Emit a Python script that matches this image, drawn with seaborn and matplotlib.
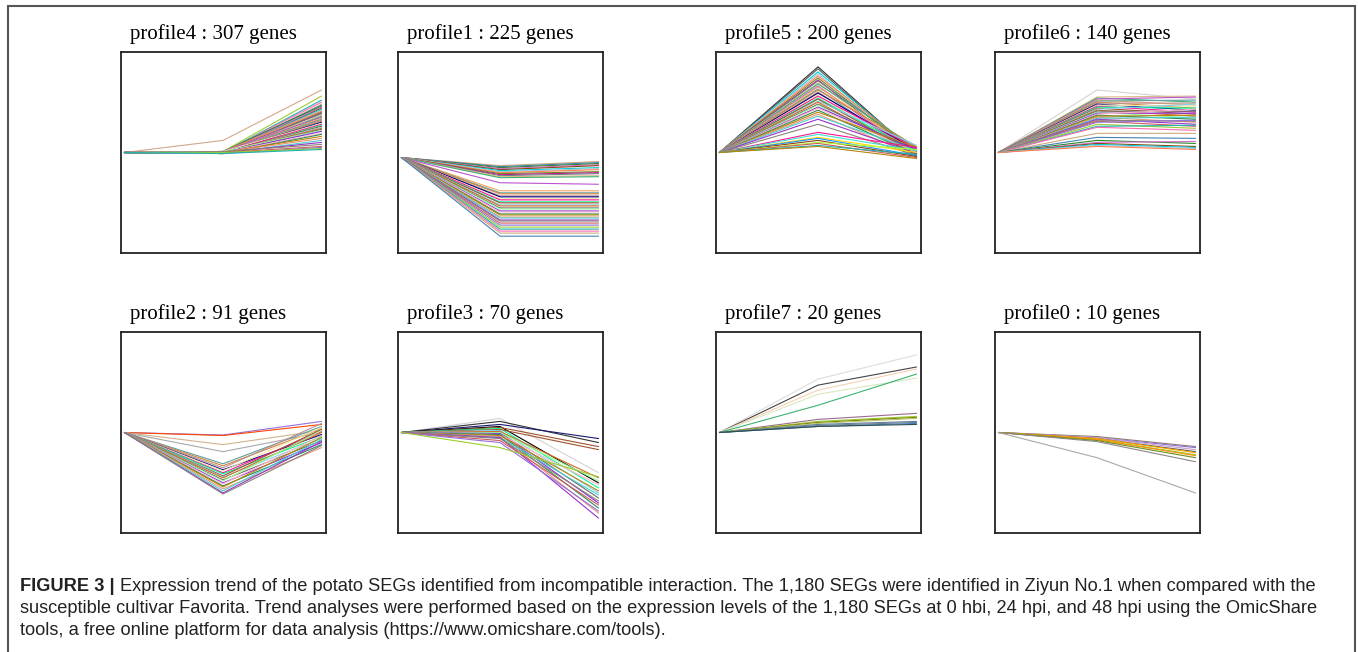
import matplotlib
matplotlib.use('Agg')
import matplotlib.pyplot as plt
import seaborn as sns
import pandas as pd
from matplotlib.patches import Rectangle

sns.set_theme(style='white')
plt.rcParams['font.family'] = ['Liberation Serif', 'DejaVu Serif']

# ---------------- data ----------------
TIME_POINTS = [0, 1, 2]          # 0 hbi, 24 hpi, 48 hpi

TITLES = ["profile4 : 307 genes", "profile1 : 225 genes", "profile5 : 200 genes",
          "profile6 : 140 genes", "profile2 : 91 genes", "profile3 : 70 genes",
          "profile7 : 20 genes", "profile0 : 10 genes"]

# start value of each profile at 0 hbi
STARTS = [0.0, -0.05, 0.0, 0.0, 0.0, 0.0, 0.0, 0.0]

# (24 hpi, 48 hpi) values of representative genes per profile
P4 = [(0.12, 0.62), (0.01, 0.56), (0.00, 0.52), (0.00, 0.50), (-0.01, 0.48), (0.00, 0.47),
      (0.01, 0.46), (0.00, 0.45), (-0.01, 0.44), (0.00, 0.43), (0.00, 0.42), (0.01, 0.41),
      (-0.01, 0.40), (0.00, 0.39), (0.00, 0.385), (0.00, 0.37), (-0.01, 0.36), (0.01, 0.35),
      (0.00, 0.34), (0.00, 0.33), (-0.01, 0.32), (0.00, 0.31), (0.00, 0.30), (0.01, 0.29),
      (0.00, 0.28), (-0.01, 0.27), (0.00, 0.26), (0.00, 0.25), (0.00, 0.24), (-0.01, 0.23),
      (0.01, 0.22), (0.00, 0.21), (0.00, 0.19), (-0.01, 0.18), (0.00, 0.16), (0.00, 0.14),
      (-0.01, 0.12), (0.00, 0.10), (0.01, 0.08), (0.00, 0.06), (-0.01, 0.05), (0.00, 0.04),
      (-0.01, 0.03)]

P1 = [(-0.13, -0.09), (-0.14, -0.10), (-0.15, -0.11), (-0.16, -0.12), (-0.17, -0.13),
      (-0.18, -0.15), (-0.19, -0.16), (-0.20, -0.17), (-0.21, -0.19), (-0.22, -0.20),
      (-0.23, -0.21), (-0.24, -0.23), (-0.25, -0.24), (-0.30, -0.315),
      (-0.38, -0.38), (-0.40, -0.40), (-0.41, -0.41), (-0.43, -0.43), (-0.44, -0.44),
      (-0.46, -0.46), (-0.47, -0.47), (-0.49, -0.49), (-0.50, -0.50), (-0.52, -0.52),
      (-0.53, -0.53), (-0.55, -0.55), (-0.56, -0.56), (-0.58, -0.58), (-0.59, -0.59),
      (-0.61, -0.61), (-0.62, -0.62), (-0.64, -0.64), (-0.65, -0.65), (-0.67, -0.67),
      (-0.68, -0.68), (-0.70, -0.70), (-0.72, -0.72), (-0.74, -0.74), (-0.76, -0.76),
      (-0.78, -0.78), (-0.80, -0.80), (-0.83, -0.83)]

P5 = [(0.85, -0.02), (0.83, -0.03), (0.80, 0.00), (0.78, -0.04), (0.76, 0.02), (0.74, -0.01),
      (0.72, -0.05), (0.71, 0.03), (0.69, -0.02), (0.68, 0.05), (0.66, -0.03), (0.65, 0.01),
      (0.63, -0.04), (0.62, 0.06), (0.60, -0.01), (0.59, 0.02), (0.57, -0.05), (0.56, 0.04),
      (0.54, 0.00), (0.53, -0.02), (0.51, 0.07), (0.50, -0.03), (0.48, 0.01), (0.47, -0.06),
      (0.45, 0.03), (0.44, 0.00), (0.42, -0.02), (0.40, 0.05), (0.38, -0.04), (0.36, 0.02),
      (0.33, -0.01), (0.28, -0.03),
      (0.20, 0.05), (0.18, 0.02), (0.15, 0.00), (0.14, -0.03), (0.12, -0.04), (0.10, 0.03),
      (0.09, -0.05), (0.07, -0.02), (0.06, -0.06)]

P6 = [(0.62, 0.53), (0.55, 0.56), (0.54, 0.50), (0.53, 0.55), (0.52, 0.47), (0.51, 0.52),
      (0.50, 0.44), (0.49, 0.49), (0.48, 0.42), (0.47, 0.46), (0.46, 0.40), (0.45, 0.44),
      (0.44, 0.38), (0.43, 0.48), (0.42, 0.36), (0.41, 0.41), (0.40, 0.34), (0.39, 0.39),
      (0.38, 0.43), (0.37, 0.33), (0.36, 0.37), (0.35, 0.30), (0.34, 0.35), (0.33, 0.28),
      (0.32, 0.31), (0.31, 0.26), (0.30, 0.32), (0.28, 0.24), (0.26, 0.27), (0.25, 0.22),
      (0.19, 0.19), (0.15, 0.14), (0.12, 0.09), (0.10, 0.11), (0.09, 0.06), (0.08, 0.05),
      (0.07, 0.04), (0.06, 0.03)]

P2 = [(-0.025, 0.11), (-0.03, 0.08), (-0.12, 0.02), (-0.19, 0.00), (-0.31, 0.06), (-0.33, 0.04),
      (-0.35, 0.09), (-0.37, -0.02), (-0.38, 0.05), (-0.40, 0.01), (-0.41, -0.04), (-0.43, 0.03),
      (-0.44, -0.06), (-0.45, 0.00), (-0.47, -0.08), (-0.48, 0.02), (-0.50, -0.10), (-0.51, -0.03),
      (-0.53, -0.12), (-0.54, -0.05), (-0.56, -0.15), (-0.58, -0.07), (-0.60, -0.09), (-0.61, -0.13)]

P3 = [(0.14, -0.40), (0.11, -0.10), (0.08, -0.06), (0.06, -0.50), (0.05, -0.14), (0.04, -0.55),
      (0.03, -0.17), (0.02, -0.60), (0.01, -0.45), (0.00, -0.65), (0.00, -0.48), (-0.01, -0.70),
      (-0.02, -0.52), (-0.02, -0.75), (-0.03, -0.58), (-0.04, -0.80), (-0.05, -0.62), (-0.05, -0.85),
      (-0.06, -0.68), (-0.08, -0.72), (-0.10, -0.78), (-0.15, -0.44)]

P7 = [(0.53, 0.77), (0.47, 0.65), (0.42, 0.63), (0.38, 0.54), (0.27, 0.58), (0.13, 0.19),
      (0.11, 0.16), (0.10, 0.15), (0.09, 0.14), (0.08, 0.11), (0.07, 0.10), (0.06, 0.09),
      (0.06, 0.08)]

P0 = [(-0.04, -0.14), (-0.05, -0.15), (-0.05, -0.17), (-0.06, -0.19), (-0.06, -0.20),
      (-0.07, -0.22), (-0.07, -0.23), (-0.08, -0.25), (-0.09, -0.29), (-0.25, -0.60)]

GENES = [P4, P1, P5, P6, P2, P3, P7, P0]

# ---------------- colours ----------------
PALETTE = ['#8B8378', '#CD5C5C', '#9370DB', '#9ACD32', '#20B2AA', '#FF69B4', '#CDAA7D',
           '#4682B4', '#228B22', '#DA70D6', '#8B4513', '#00CED1', '#B0C4DE', '#FF7F50',
           '#6B8E23', '#C71585', '#708090', '#DEB887', '#3CB371', '#BA55D3', '#F4A460',
           '#5F9EA0', '#CD853F', '#BC8F8F', '#000080', '#EEE8AA', '#FF1493', '#00FA9A',
           '#A0522D', '#87CEEB', '#D2691E', '#696969', '#98FB98', '#8A2BE2', '#FFB6C1',
           '#2E8B57', '#B8860B', '#E9967A', '#48D1CC', '#9932CC']

def cyc(offset, n):
    return [PALETTE[(offset + k) % len(PALETTE)] for k in range(n)]

C4 = ['#D2A88C'] + cyc(3, len(P4) - 1)
C1 = cyc(6, len(P1))
C5 = ['#333333', '#555555'] + cyc(11, 30) + ['#FF1493'] + \
     ['#40E0D0', '#FFD700', '#1E90FF', '#8B4513', '#ADFF2F', '#CD5C5C', '#20B2AA', '#B8860B', '#48D1CC']
C6 = ['#D3D3D3'] + cyc(17, len(P6) - 1)
C2 = ['#9370DB', '#FF4500', '#D2B48C', '#A9A9A9'] + cyc(21, len(P2) - 4)
C3 = ['#D3D3D3', '#333333', '#191970', '#000000', '#A0522D'] + cyc(27, len(P3) - 5)
C7 = ['#DCDCDC', '#444444', '#F5D0B0', '#D8E8C0', '#3CB371', '#9B6B8E', '#9ACD32',
      '#808000', '#B8C870', '#5F7F9F', '#708090', '#4682B4', '#2F4F4F']
C0 = ['#8B7D6B', '#9370DB', '#C8A2C8', '#555555', '#FFA500', '#9ACD32', '#FF8C00',
      '#6B8E23', '#8B8682', '#A9A9A9']
COLORS = [C4, C1, C5, C6, C2, C3, C7, C0]

# ---------------- layout ----------------
W, H = 1358, 652
fig = plt.figure(figsize=(W / 100, H / 100), dpi=100)
col_left = [121, 398, 716, 995]
row_top = [51.7, 331.7]
pw, ph = 205, 201.6

for i in range(8):
    r, c = divmod(i, 4)
    ax = fig.add_axes([col_left[c] / W, 1 - (row_top[r] + ph) / H, pw / W, ph / H])
    genes = GENES[i]
    rows = []
    for g, (m, e) in enumerate(genes):
        for t, v in zip(TIME_POINTS, (STARTS[i], m, e)):
            rows.append({'gene': f'g{g:03d}', 'time': t, 'value': v})
    df = pd.DataFrame(rows)
    order = [f'g{g:03d}' for g in range(len(genes))]
    sns.lineplot(data=df, x='time', y='value', hue='gene', hue_order=order,
                 palette=COLORS[i][:len(genes)], legend=False, linewidth=0.8,
                 estimator=None, ax=ax)
    ax.set_xlim(-0.035, 2.045)
    ax.set_ylim(-1, 1)
    ax.set_xticks([])
    ax.set_yticks([])
    ax.set_xlabel('')
    ax.set_ylabel('')
    ax.set_facecolor('white')
    for s in ax.spines.values():
        s.set_visible(True)
        s.set_color('#222222')
        s.set_linewidth(1.3)
    ax.text(9 / pw, 1 + 12.7 / ph, TITLES[i], transform=ax.transAxes, ha='left',
            va='baseline', fontsize=15, family=['Liberation Serif'], color='black')

# outer frame
fig.add_artist(Rectangle((8 / W, -0.1), (1355 - 8) / W, 1.1 - 6 / H, transform=fig.transFigure,
                         fill=False, edgecolor='#555555', linewidth=1.5, clip_on=False))

# caption
CAP_BOLD = "FIGURE 3 |"
CAP_L1 = ("Expression trend of the potato SEGs identified from incompatible interaction. "
          "The 1,180 SEGs were identified in Ziyun No.1 when compared with the")
CAP_L2 = ("susceptible cultivar Favorita. Trend analyses were performed based on the expression "
          "levels of the 1,180 SEGs at 0 hbi, 24 hpi, and 48 hpi using the OmicShare")
CAP_L3 = "tools, a free online platform for data analysis (https://www.omicshare.com/tools)."

cap_fs = 13.15
cap_col = '#222222'
x0 = 20 / W
base = [591, 613, 635]
tb = fig.text(x0, 1 - base[0] / H, CAP_BOLD, fontsize=cap_fs, fontweight='bold',
              family=['Liberation Sans'], color=cap_col, va='baseline')
fig.canvas.draw()
bb = tb.get_window_extent(renderer=fig.canvas.get_renderer())
fig.text(bb.x1 / W + 5 / W, 1 - base[0] / H, CAP_L1, fontsize=cap_fs, family=['Liberation Sans'],
         color=cap_col, va='baseline')
fig.text(x0, 1 - base[1] / H, CAP_L2, fontsize=cap_fs, family=['Liberation Sans'],
         color=cap_col, va='baseline')
fig.text(x0, 1 - base[2] / H, CAP_L3, fontsize=cap_fs, family=['Liberation Sans'],
         color=cap_col, va='baseline')

fig.savefig('out.png', dpi=100, facecolor='white')
